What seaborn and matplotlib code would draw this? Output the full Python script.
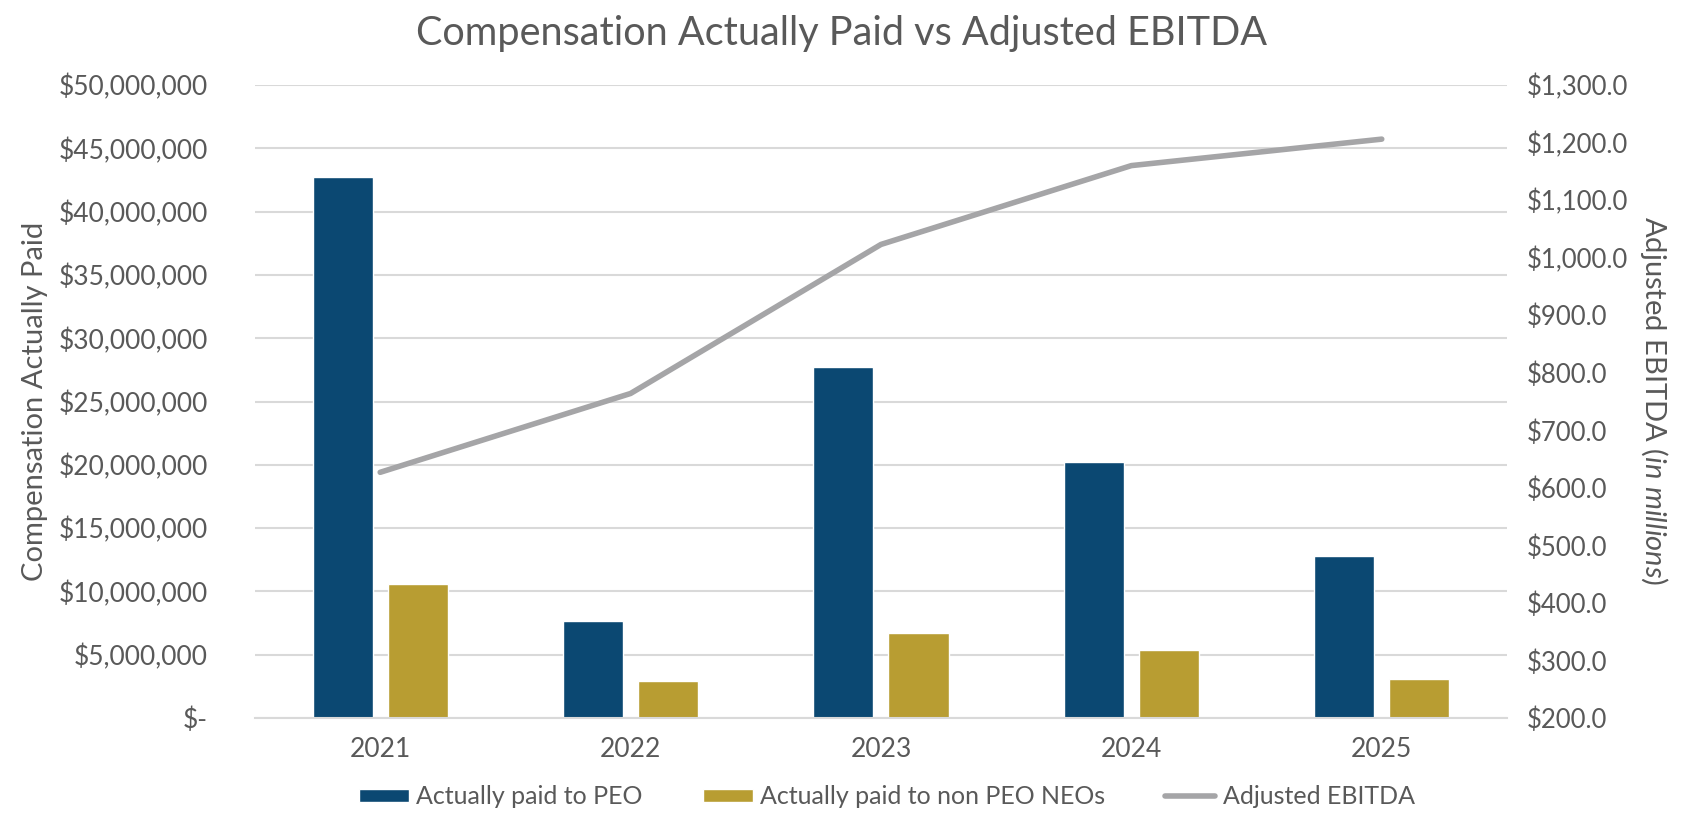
"""Compensation Actually Paid vs Adjusted EBITDA (bar + line, twin axes)."""

import matplotlib
matplotlib.use("Agg")
import matplotlib.pyplot as plt
import matplotlib.ticker as mticker
import pandas as pd
import seaborn as sns

years = ["2021", "2022", "2023", "2024", "2025"]
peo_paid = [42_700_000, 7_700_000, 27_700_000, 20_200_000, 12_800_000]
non_peo_paid = [10_600_000, 2_900_000, 6_700_000, 5_400_000, 3_100_000]
adj_ebitda = [627.0, 764.0, 1023.0, 1160.0, 1206.0]

series_names = ["Actually paid to PEO", "Actually paid to non PEO NEOs"]
line_name = "Adjusted EBITDA"

BLUE = "#0B4872"
GOLD = "#B89D32"
LINE_GRAY = "#A5A5A7"
TEXT = "#595959"
GRID = "#D9D9D9"

sns.set_theme(style="white")
plt.rcParams["font.family"] = ["Lato", "DejaVu Sans"]
plt.rcParams["mathtext.fontset"] = "custom"
plt.rcParams["mathtext.rm"] = "Lato"
plt.rcParams["mathtext.it"] = "Lato:italic"

df = pd.DataFrame({
    "year": years * 2,
    "value": peo_paid + non_peo_paid,
    "series": [series_names[0]] * len(years) + [series_names[1]] * len(years),
})

fig = plt.figure(figsize=(16.83, 8.24), dpi=100)
ax = fig.add_axes([0.1515, 0.1286, 0.7439, 0.7682])

sns.barplot(data=df, x="year", y="value", hue="series", hue_order=series_names,
            palette=[BLUE, GOLD], width=0.6, gap=0.2, saturation=1, ax=ax,
            legend=True)

ax.set_ylim(0, 50_000_000)
ax.yaxis.set_major_locator(mticker.MultipleLocator(5_000_000))
ax.yaxis.set_major_formatter(
    mticker.FuncFormatter(lambda v, _: "$-" if v == 0 else f"${v:,.0f}"))
ax.set_xlim(-0.5, len(years) - 0.5)
ax.grid(axis="y", color=GRID, linewidth=1.5)
ax.set_axisbelow(True)
for side in ["left", "right", "top"]:
    ax.spines[side].set_visible(False)
ax.spines["bottom"].set_color(GRID)
ax.spines["bottom"].set_linewidth(1.5)
ax.tick_params(axis="x", length=0, labelsize=19, labelcolor=TEXT, pad=14)
ax.tick_params(axis="y", length=0, labelsize=19, labelcolor=TEXT, pad=34)
ax.set_xticks([i - 0.5 for i in range(len(years) + 1)], minor=True)
ax.tick_params(axis="x", which="minor", length=6.5, width=1.5, color=GRID,
               direction="out")
ax.set_xlabel("")
ax.set_ylabel("")

ax2 = ax.twinx()
sns.lineplot(x=list(range(len(years))), y=adj_ebitda, color=LINE_GRAY,
             linewidth=4, ax=ax2, label=line_name, legend=False)
ax2.set_ylim(200, 1300)
ax2.yaxis.set_major_locator(mticker.MultipleLocator(100))
ax2.yaxis.set_major_formatter(mticker.FuncFormatter(lambda v, _: f"${v:,.1f}"))
for side in ["left", "right", "top", "bottom"]:
    ax2.spines[side].set_visible(False)
ax2.tick_params(axis="y", length=0, labelsize=18.5, labelcolor=TEXT, pad=14)
ax2.set_ylabel("")

fig.text(35 / 1683, 0.5133, "Compensation Actually Paid", rotation=90,
         ha="center", va="center", fontsize=21, color=TEXT)
fig.text(1654 / 1683, 0.5133, r"Adjusted EBITDA $\mathit{(in\ millions)}$",
         rotation=270, ha="center", va="center", fontsize=21, color=TEXT)

handles, labels = ax.get_legend_handles_labels()
h2, l2 = ax2.get_legend_handles_labels()
ax.get_legend().remove()
fig.legend(handles + h2, labels + l2, loc="center", bbox_to_anchor=(0.527, 0.033),
           ncol=3, frameon=False, fontsize=18, labelcolor=TEXT,
           handlelength=2.0, handleheight=0.45, columnspacing=2.4,
           handletextpad=0.3)

fig.text(0.5, 0.959, "Compensation Actually Paid vs Adjusted EBITDA",
         ha="center", va="center", fontsize=28.5, color=TEXT)

fig.savefig("out.png", dpi=100)
